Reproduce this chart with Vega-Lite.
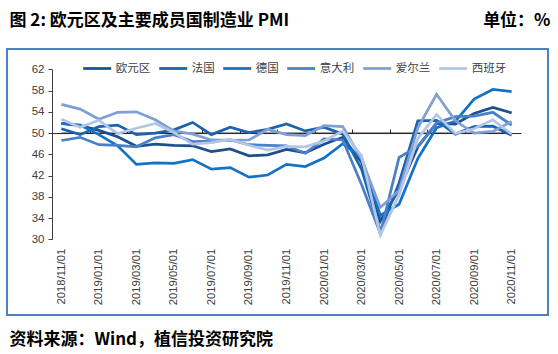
{
  "$schema": "https://vega.github.io/schema/vega-lite/v6.json",
  "width": 541,
  "height": 266,
  "autosize": "none",
  "padding": {"left": 7, "top": 49, "right": 10, "bottom": 39},
  "background": "#ffffff",
  "config": {
    "view": {"stroke": "#4f81bd", "strokeWidth": 2},
    "font": "Liberation Sans",
    "axis": {"labelFont": "Liberation Sans", "labelColor": "#404040", "grid": false, "labelOverlap": false}
  },
  "datasets": {
    "months": [
      {"m":"2018/11/01"},{"m":"2018/12/01"},{"m":"2019/01/01"},{"m":"2019/02/01"},{"m":"2019/03/01"},
      {"m":"2019/04/01"},{"m":"2019/05/01"},{"m":"2019/06/01"},{"m":"2019/07/01"},{"m":"2019/08/01"},
      {"m":"2019/09/01"},{"m":"2019/10/01"},{"m":"2019/11/01"},{"m":"2019/12/01"},{"m":"2020/01/01"},
      {"m":"2020/02/01"},{"m":"2020/03/01"},{"m":"2020/04/01"},{"m":"2020/05/01"},{"m":"2020/06/01"},
      {"m":"2020/07/01"},{"m":"2020/08/01"},{"m":"2020/09/01"},{"m":"2020/10/01"},{"m":"2020/11/01"}
    ],
    "pmi": [
      {"m":"2018/11/01","s":"欧元区","v":51.8},{"m":"2018/12/01","s":"欧元区","v":51.4},{"m":"2019/01/01","s":"欧元区","v":50.5},{"m":"2019/02/01","s":"欧元区","v":49.3},{"m":"2019/03/01","s":"欧元区","v":47.5},
      {"m":"2019/04/01","s":"欧元区","v":47.9},{"m":"2019/05/01","s":"欧元区","v":47.7},{"m":"2019/06/01","s":"欧元区","v":47.6},{"m":"2019/07/01","s":"欧元区","v":46.5},{"m":"2019/08/01","s":"欧元区","v":47.0},
      {"m":"2019/09/01","s":"欧元区","v":45.7},{"m":"2019/10/01","s":"欧元区","v":45.9},{"m":"2019/11/01","s":"欧元区","v":46.9},{"m":"2019/12/01","s":"欧元区","v":46.3},{"m":"2020/01/01","s":"欧元区","v":47.9},
      {"m":"2020/02/01","s":"欧元区","v":49.2},{"m":"2020/03/01","s":"欧元区","v":44.5},{"m":"2020/04/01","s":"欧元区","v":33.4},{"m":"2020/05/01","s":"欧元区","v":39.4},{"m":"2020/06/01","s":"欧元区","v":47.4},
      {"m":"2020/07/01","s":"欧元区","v":51.8},{"m":"2020/08/01","s":"欧元区","v":51.7},{"m":"2020/09/01","s":"欧元区","v":53.7},{"m":"2020/10/01","s":"欧元区","v":54.8},{"m":"2020/11/01","s":"欧元区","v":53.8},

      {"m":"2018/11/01","s":"法国","v":50.8},{"m":"2018/12/01","s":"法国","v":49.7},{"m":"2019/01/01","s":"法国","v":51.2},{"m":"2019/02/01","s":"法国","v":51.5},{"m":"2019/03/01","s":"法国","v":49.7},
      {"m":"2019/04/01","s":"法国","v":50.0},{"m":"2019/05/01","s":"法国","v":50.6},{"m":"2019/06/01","s":"法国","v":52.0},{"m":"2019/07/01","s":"法国","v":49.7},{"m":"2019/08/01","s":"法国","v":51.1},
      {"m":"2019/09/01","s":"法国","v":50.1},{"m":"2019/10/01","s":"法国","v":50.7},{"m":"2019/11/01","s":"法国","v":51.7},{"m":"2019/12/01","s":"法国","v":50.4},{"m":"2020/01/01","s":"法国","v":51.1},
      {"m":"2020/02/01","s":"法国","v":49.8},{"m":"2020/03/01","s":"法国","v":43.2},{"m":"2020/04/01","s":"法国","v":31.5},{"m":"2020/05/01","s":"法国","v":40.6},{"m":"2020/06/01","s":"法国","v":52.3},
      {"m":"2020/07/01","s":"法国","v":52.4},{"m":"2020/08/01","s":"法国","v":49.8},{"m":"2020/09/01","s":"法国","v":51.2},{"m":"2020/10/01","s":"法国","v":51.3},{"m":"2020/11/01","s":"法国","v":49.6},

      {"m":"2018/11/01","s":"德国","v":51.8},{"m":"2018/12/01","s":"德国","v":51.5},{"m":"2019/01/01","s":"德国","v":49.7},{"m":"2019/02/01","s":"德国","v":47.6},{"m":"2019/03/01","s":"德国","v":44.1},
      {"m":"2019/04/01","s":"德国","v":44.4},{"m":"2019/05/01","s":"德国","v":44.3},{"m":"2019/06/01","s":"德国","v":45.0},{"m":"2019/07/01","s":"德国","v":43.2},{"m":"2019/08/01","s":"德国","v":43.5},
      {"m":"2019/09/01","s":"德国","v":41.7},{"m":"2019/10/01","s":"德国","v":42.1},{"m":"2019/11/01","s":"德国","v":44.1},{"m":"2019/12/01","s":"德国","v":43.7},{"m":"2020/01/01","s":"德国","v":45.3},
      {"m":"2020/02/01","s":"德国","v":48.0},{"m":"2020/03/01","s":"德国","v":45.4},{"m":"2020/04/01","s":"德国","v":34.5},{"m":"2020/05/01","s":"德国","v":36.6},{"m":"2020/06/01","s":"德国","v":45.2},
      {"m":"2020/07/01","s":"德国","v":51.0},{"m":"2020/08/01","s":"德国","v":52.2},{"m":"2020/09/01","s":"德国","v":56.4},{"m":"2020/10/01","s":"德国","v":58.2},{"m":"2020/11/01","s":"德国","v":57.8},

      {"m":"2018/11/01","s":"意大利","v":48.6},{"m":"2018/12/01","s":"意大利","v":49.2},{"m":"2019/01/01","s":"意大利","v":47.8},{"m":"2019/02/01","s":"意大利","v":47.7},{"m":"2019/03/01","s":"意大利","v":47.4},
      {"m":"2019/04/01","s":"意大利","v":49.1},{"m":"2019/05/01","s":"意大利","v":49.7},{"m":"2019/06/01","s":"意大利","v":48.4},{"m":"2019/07/01","s":"意大利","v":48.5},{"m":"2019/08/01","s":"意大利","v":48.7},
      {"m":"2019/09/01","s":"意大利","v":47.8},{"m":"2019/10/01","s":"意大利","v":47.7},{"m":"2019/11/01","s":"意大利","v":47.6},{"m":"2019/12/01","s":"意大利","v":46.2},{"m":"2020/01/01","s":"意大利","v":48.9},
      {"m":"2020/02/01","s":"意大利","v":48.7},{"m":"2020/03/01","s":"意大利","v":40.3},{"m":"2020/04/01","s":"意大利","v":31.1},{"m":"2020/05/01","s":"意大利","v":45.4},{"m":"2020/06/01","s":"意大利","v":47.5},
      {"m":"2020/07/01","s":"意大利","v":51.9},{"m":"2020/08/01","s":"意大利","v":53.1},{"m":"2020/09/01","s":"意大利","v":53.2},{"m":"2020/10/01","s":"意大利","v":53.9},{"m":"2020/11/01","s":"意大利","v":51.5},

      {"m":"2018/11/01","s":"爱尔兰","v":55.4},{"m":"2018/12/01","s":"爱尔兰","v":54.5},{"m":"2019/01/01","s":"爱尔兰","v":52.6},{"m":"2019/02/01","s":"爱尔兰","v":53.9},{"m":"2019/03/01","s":"爱尔兰","v":54.0},
      {"m":"2019/04/01","s":"爱尔兰","v":52.5},{"m":"2019/05/01","s":"爱尔兰","v":50.4},{"m":"2019/06/01","s":"爱尔兰","v":49.8},{"m":"2019/07/01","s":"爱尔兰","v":48.7},{"m":"2019/08/01","s":"爱尔兰","v":48.6},
      {"m":"2019/09/01","s":"爱尔兰","v":48.7},{"m":"2019/10/01","s":"爱尔兰","v":50.7},{"m":"2019/11/01","s":"爱尔兰","v":49.7},{"m":"2019/12/01","s":"爱尔兰","v":49.5},{"m":"2020/01/01","s":"爱尔兰","v":51.4},
      {"m":"2020/02/01","s":"爱尔兰","v":51.2},{"m":"2020/03/01","s":"爱尔兰","v":45.1},{"m":"2020/04/01","s":"爱尔兰","v":36.0},{"m":"2020/05/01","s":"爱尔兰","v":39.2},{"m":"2020/06/01","s":"爱尔兰","v":51.0},
      {"m":"2020/07/01","s":"爱尔兰","v":57.3},{"m":"2020/08/01","s":"爱尔兰","v":52.3},{"m":"2020/09/01","s":"爱尔兰","v":50.0},{"m":"2020/10/01","s":"爱尔兰","v":50.3},{"m":"2020/11/01","s":"爱尔兰","v":52.2},

      {"m":"2018/11/01","s":"西班牙","v":52.6},{"m":"2018/12/01","s":"西班牙","v":51.1},{"m":"2019/01/01","s":"西班牙","v":52.4},{"m":"2019/02/01","s":"西班牙","v":49.9},{"m":"2019/03/01","s":"西班牙","v":50.9},
      {"m":"2019/04/01","s":"西班牙","v":51.8},{"m":"2019/05/01","s":"西班牙","v":50.1},{"m":"2019/06/01","s":"西班牙","v":47.9},{"m":"2019/07/01","s":"西班牙","v":48.2},{"m":"2019/08/01","s":"西班牙","v":48.8},
      {"m":"2019/09/01","s":"西班牙","v":47.7},{"m":"2019/10/01","s":"西班牙","v":46.8},{"m":"2019/11/01","s":"西班牙","v":47.5},{"m":"2019/12/01","s":"西班牙","v":47.4},{"m":"2020/01/01","s":"西班牙","v":48.5},
      {"m":"2020/02/01","s":"西班牙","v":50.4},{"m":"2020/03/01","s":"西班牙","v":45.7},{"m":"2020/04/01","s":"西班牙","v":30.8},{"m":"2020/05/01","s":"西班牙","v":38.3},{"m":"2020/06/01","s":"西班牙","v":49.0},
      {"m":"2020/07/01","s":"西班牙","v":53.5},{"m":"2020/08/01","s":"西班牙","v":49.9},{"m":"2020/09/01","s":"西班牙","v":50.8},{"m":"2020/10/01","s":"西班牙","v":52.5},{"m":"2020/11/01","s":"西班牙","v":49.8}
    ]
  },
  "layer": [
    {
      "data": {"name": "months"},
      "mark": {"type": "line", "color": "#262626", "strokeWidth": 1},
      "encoding": {
        "x": {
          "field": "m", "type": "ordinal",
          "scale": {"type": "point", "range": [45, 514], "padding": 0.5},
          "axis": {
            "orient": "top", "offset": -84.05,
            "values": ["2018/11/01","2019/01/01","2019/03/01","2019/05/01","2019/07/01","2019/09/01","2019/11/01","2020/01/01","2020/03/01","2020/05/01","2020/07/01","2020/09/01","2020/11/01"],
            "labels": false, "ticks": true, "tickSize": 4, "tickOffset": -9.38,
            "tickColor": "#262626", "domain": true, "domainColor": "#262626", "domainWidth": 1,
            "title": "单位：%", "titleX": 543, "titleY": -108, "titleAlign": "right", "titleBaseline": "alphabetic", "titleAnchor": null,
            "titleFont": "Noto Sans CJK SC", "titleFontSize": 17, "titleFontWeight": "bold", "titleColor": "#000000"
          }
        },
        "y": {"datum": 50, "type": "quantitative"}
      }
    },
    {
      "data": {"name": "pmi"},
      "mark": {"type": "line", "strokeWidth": 2.75},
      "encoding": {
        "x": {
          "field": "m", "type": "ordinal",
          "scale": {"type": "point", "range": [45, 514], "padding": 0.5},
          "axis": {
            "orient": "bottom", "offset": -75.7,
            "values": ["2018/11/01","2019/01/01","2019/03/01","2019/05/01","2019/07/01","2019/09/01","2019/11/01","2020/01/01","2020/03/01","2020/05/01","2020/07/01","2020/09/01","2020/11/01"],
            "labelAngle": 270, "labelFontSize": 11.3, "labelPadding": 9, "ticks": false, "domain": false,
            "title": "资料来源：Wind，植信投资研究院", "titleX": 2, "titleY": 105, "titleAlign": "left", "titleBaseline": "alphabetic", "titleAnchor": null,
            "titleFont": "Noto Sans CJK SC", "titleFontSize": 17, "titleFontWeight": "bold", "titleColor": "#000000"
          }
        },
        "y": {
          "field": "v", "type": "quantitative",
          "scale": {"domain": [30, 62], "range": [190.3, 20.3], "nice": false, "zero": false},
          "axis": {
            "orient": "left", "offset": -45,
            "values": [30, 34, 38, 42, 46, 50, 54, 58, 62], "tickCount": 9, "labelOverlap": false,
            "labelFontSize": 11.5, "labelPadding": 4, "tickSize": 4, "tickColor": "#404040", "domainColor": "#404040",
            "title": "图 2: 欧元区及主要成员国制造业 PMI", "titleAngle": 0, "titleX": -43, "titleY": -24, "titleAlign": "left", "titleBaseline": "alphabetic", "titleAnchor": null,
            "titleFont": "Noto Sans CJK SC", "titleFontSize": 17, "titleFontWeight": "bold", "titleColor": "#000000"
          }
        },
        "color": {
          "field": "s", "type": "nominal",
          "scale": {
            "domain": ["欧元区", "法国", "德国", "意大利", "爱尔兰", "西班牙"],
            "range": ["#1c4f8e", "#1a63ad", "#1472c4", "#4a80c8", "#7f9fd6", "#b3c6e8"]
          },
          "legend": {
            "orient": "none", "legendX": 74.7, "legendY": 4, "direction": "horizontal", "columns": 6,
            "title": null, "symbolType": "stroke", "symbolSize": 784, "symbolStrokeWidth": 2.75,
            "labelFont": "Noto Sans CJK SC", "labelFontSize": 11.5, "labelColor": "#404040",
            "labelOffset": 3, "columnPadding": 3
          }
        }
      }
    }
  ],
  "resolve": {"axis": {"x": "independent"}}
}
